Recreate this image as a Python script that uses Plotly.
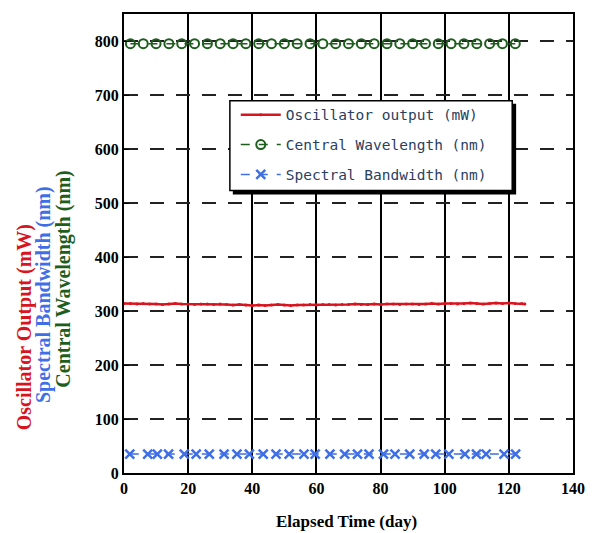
import plotly.graph_objects as go

# ---- data ----
osc_days = [0, 2, 4, 6, 8, 10, 12, 14, 16, 18, 20, 22, 24, 26, 28, 30, 32, 34, 36, 38,
            40, 42, 44, 46, 48, 50, 52, 54, 56, 58, 60, 62, 64, 66, 68, 70, 72, 74, 76, 78,
            80, 82, 84, 86, 88, 90, 92, 94, 96, 98, 100, 102, 104, 106, 108, 110, 112, 114,
            116, 118, 120, 122, 124, 125]
osc_power = [314, 314, 313, 314, 313, 313, 312, 313, 314, 313, 313, 312, 313, 313, 312, 313,
             312, 311, 312, 311, 310, 311, 310, 311, 312, 311, 310, 311, 311, 312, 311, 312,
             312, 311, 312, 312, 313, 312, 312, 313, 312, 313, 313, 312, 313, 313, 312, 313,
             314, 313, 314, 314, 313, 314, 315, 314, 313, 314, 315, 314, 315, 314, 314, 313]

wl_days = [2, 6, 10, 14, 18, 22, 26, 30, 34, 38, 42, 46, 50, 54, 58, 62, 66, 70, 74, 78,
           82, 86, 90, 94, 98, 102, 106, 110, 114, 118, 122]
wl_nm = [795, 795, 795, 795, 795, 795, 795, 795, 795, 795, 795, 795, 795, 795, 795, 795,
         795, 795, 795, 795, 795, 795, 795, 795, 795, 795, 795, 795, 795, 795, 795]

bw_days = [1.8, 7.4, 10.4, 13.9, 18.8, 22.5, 26.6, 31.2, 35.2, 39.1, 43.4, 47.4, 51.5, 56.1,
           59.6, 64.2, 68.8, 72.8, 76.4, 80.9, 84.5, 89.1, 93.6, 97.2, 101.3, 106.3, 109.9,
           112.9, 118.5, 122.1]
bw_nm = [35, 35, 35, 35, 35, 35, 35, 35, 35, 35, 35, 35, 35, 35, 35, 35, 35, 35, 35, 35,
         35, 35, 35, 35, 35, 35, 35, 35, 35, 35]

x_ticks = [0, 20, 40, 60, 80, 100, 120, 140]
y_ticks = [0, 100, 200, 300, 400, 500, 600, 700, 800]

RED = "#d8141e"
GREEN = "#1d5e1d"
BLUE = "#3f6fe6"
SERIF = "Liberation Serif"
MONO = "DejaVu Sans Mono"

fig = go.Figure()
fig.add_trace(go.Scatter(
    x=osc_days, y=osc_power, mode="lines+markers", name="Oscillator output (mW)",
    line=dict(color=RED, width=2.5), marker=dict(size=3, color=RED),
    legendgroup="a"))
fig.add_trace(go.Scatter(
    x=wl_days, y=wl_nm, mode="lines+markers", name="Central Wavelength (nm)",
    line=dict(color=GREEN, width=1.5, dash="dash"),
    marker=dict(symbol="circle-open", size=9, color=GREEN, line=dict(width=2, color=GREEN)),
    legendgroup="b"))
fig.add_trace(go.Scatter(
    x=bw_days, y=bw_nm, mode="lines+markers", name="Spectral Bandwidth (nm)",
    line=dict(color=BLUE, width=1.5, dash="dash"),
    marker=dict(symbol="x-thin-open", size=9, color=BLUE, line=dict(width=2.5, color=BLUE)),
    legendgroup="c"))

L, R, T, B = 124, 15, 13, 60
W, H = 597, 533
pw, ph = W - L - R, H - T - B

def px(xp):
    return (xp - L) / pw

def py(yp):
    return (H - B - yp) / ph

fig.update_layout(
    width=W, height=H, autosize=False,
    margin=dict(l=L, r=R, t=T, b=B),
    paper_bgcolor="white", plot_bgcolor="white",
    showlegend=True,
    legend=dict(
        x=px(238), y=py(98), xanchor="left", yanchor="top",
        bgcolor="rgba(0,0,0,0)", borderwidth=0,
        font=dict(family=MONO, size=14.5),
        traceorder="grouped", tracegroupgap=8,
        itemwidth=40,
    ),
    xaxis=dict(
        range=[0, 140], tickvals=x_ticks, ticktext=[str(v) for v in x_ticks],
        showgrid=True, gridcolor="black", gridwidth=1.5,
        showline=True, linecolor="black", linewidth=2, mirror=True,
        ticks="inside", ticklen=5, tickcolor="black",
        tickfont=dict(family=SERIF, size=16, color="black", weight="bold"),
        zeroline=False,
    ),
    yaxis=dict(
        range=[0, 850], tickvals=y_ticks, ticktext=[str(v) for v in y_ticks],
        showgrid=True, gridcolor="#222", gridwidth=1.5, griddash="14px,12px",
        showline=True, linecolor="black", linewidth=2, mirror=True,
        ticks="inside", ticklen=5, tickcolor="black",
        tickfont=dict(family=SERIF, size=16, color="black", weight="bold"),
        zeroline=False,
    ),
)

ann_font = dict(family=SERIF, size=20, weight="bold")
for text, color, xp, yp in [("Oscillator Output (mW)", RED, 22, 327),
                            ("Spectral Bandwidth (nm)", BLUE, 42, 294),
                            ("Central Wavelength (nm)", GREEN, 62, 279)]:
    fig.add_annotation(text=text, xref="paper", yref="paper",
                       x=px(xp), y=py(yp), xanchor="center", yanchor="middle",
                       textangle=-90, showarrow=False,
                       font=dict(color=color, **ann_font))
fig.add_annotation(text="Elapsed Time (day)", xref="paper", yref="paper",
                   x=px(351), y=py(510), xanchor="center", yanchor="top", showarrow=False,
                   font=dict(color="black", family=SERIF, size=17, weight="bold"))

# legend box with drop shadow
fig.add_shape(type="rect", xref="paper", yref="paper", layer="above",
              x0=px(235), x1=px(524), y0=py(194), y1=py(103),
              fillcolor="black", line=dict(width=0))
fig.add_shape(type="rect", xref="paper", yref="paper", layer="above",
              x0=px(232), x1=px(520), y0=py(190), y1=py(100),
              fillcolor="white", line=dict(color="black", width=1.5))

fig.write_html("out.html")
